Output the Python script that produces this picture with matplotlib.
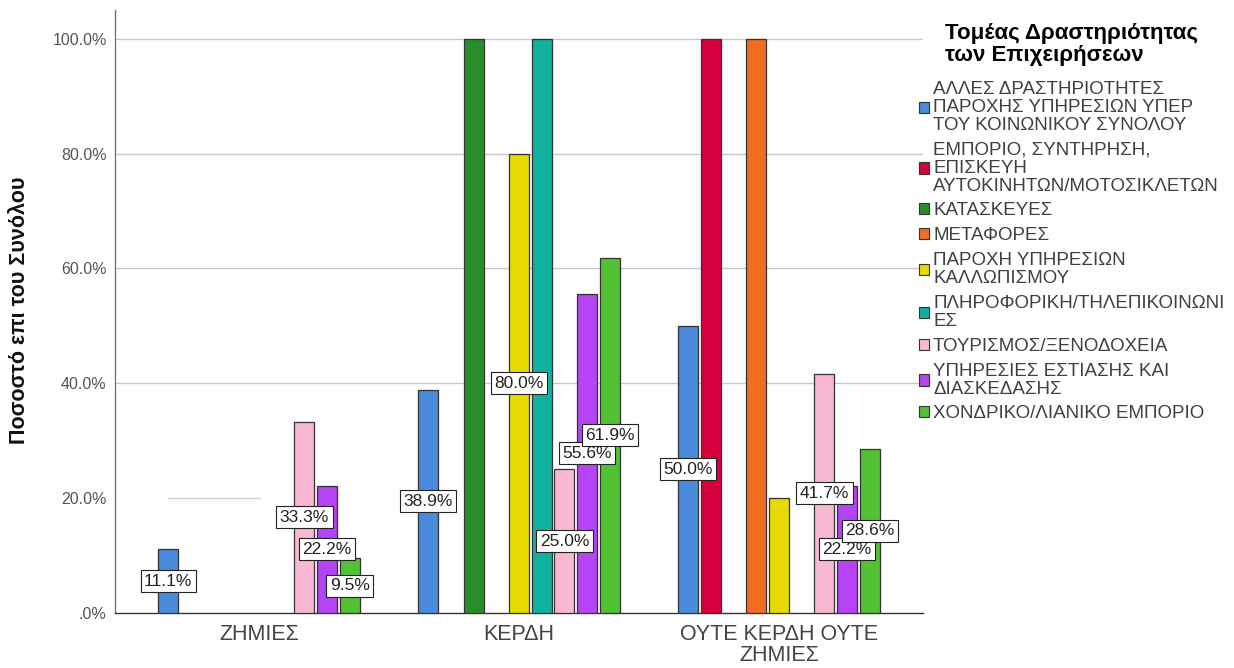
import numpy as np
import matplotlib
matplotlib.use("Agg")
import matplotlib.pyplot as plt

plt.rcParams['font.family'] = ['Liberation Sans', 'DejaVu Sans']

# Ομάδες (αποτέλεσμα χρήσης) και τομείς δραστηριότητας
groups = ["ΖΗΜΙΕΣ", "ΚΕΡΔΗ", "ΟΥΤΕ ΚΕΡΔΗ ΟΥΤΕ\nΖΗΜΙΕΣ"]
sectors = [
    "ΑΛΛΕΣ ΔΡΑΣΤΗΡΙΟΤΗΤΕΣ\nΠΑΡΟΧΗΣ ΥΠΗΡΕΣΙΩΝ ΥΠΕΡ\nΤΟΥ ΚΟΙΝΩΝΙΚΟΥ ΣΥΝΟΛΟΥ",
    "ΕΜΠΟΡΙΟ, ΣΥΝΤΗΡΗΣΗ,\nΕΠΙΣΚΕΥΗ\nΑΥΤΟΚΙΝΗΤΩΝ/ΜΟΤΟΣΙΚΛΕΤΩΝ",
    "ΚΑΤΑΣΚΕΥΕΣ",
    "ΜΕΤΑΦΟΡΕΣ",
    "ΠΑΡΟΧΗ ΥΠΗΡΕΣΙΩΝ\nΚΑΛΛΩΠΙΣΜΟΥ",
    "ΠΛΗΡΟΦΟΡΙΚΗ/ΤΗΛΕΠΙΚΟΙΝΩΝΙ\nΕΣ",
    "ΤΟΥΡΙΣΜΟΣ/ΞΕΝΟΔΟΧΕΙΑ",
    "ΥΠΗΡΕΣΙΕΣ ΕΣΤΙΑΣΗΣ ΚΑΙ\nΔΙΑΣΚΕΔΑΣΗΣ",
    "ΧΟΝΔΡΙΚΟ/ΛΙΑΝΙΚΟ ΕΜΠΟΡΙΟ",
]

# Ποσοστά (%) ανά τομέα για κάθε ομάδα
alles = [11.1, 38.9, 50.0]
emporio = [0.0, 0.0, 100.0]
kataskeves = [0.0, 100.0, 0.0]
metafores = [0.0, 0.0, 100.0]
kallopismos = [0.0, 80.0, 20.0]
pliroforiki = [0.0, 100.0, 0.0]
tourismos = [33.3, 25.0, 41.7]
estiasi = [22.2, 55.6, 22.2]
xondriko = [9.5, 61.9, 28.6]
values = [alles, emporio, kataskeves, metafores, kallopismos,
          pliroforiki, tourismos, estiasi, xondriko]

colors = ["#4B8BDB", "#D8003C", "#2A8C2A", "#F26C24", "#E6DA00",
          "#12B09E", "#F8B8D4", "#B444F4", "#52C234"]

# μπάρες χωρίς ετικέτα τιμής (σειρά, ομάδα)
no_label = {(4, 2)}

fig = plt.figure(figsize=(12.34, 6.68), dpi=100)
ax = fig.add_axes([115 / 1234, 55 / 668, 808 / 1234, 603 / 668])

x = np.arange(len(groups))
slot = 0.0873
width = 0.077
n = len(sectors)

for i, (vals, col, name) in enumerate(zip(values, colors, sectors)):
    pos = x + (i - (n - 1) / 2) * slot
    # οι μηδενικές μπάρες δεν έχουν περίγραμμα
    lws = [0.9 if v > 0 else 0 for v in vals]
    ax.bar(pos, vals, width=width, color=col, edgecolor="#333333",
           linewidth=lws, label=name, zorder=3)
    for g, (p, v) in enumerate(zip(pos, vals)):
        if v <= 0 or v >= 100 or (i, g) in no_label:
            continue
        ax.text(p, v / 2, f"{v:.1f}%", ha="center", va="center",
                fontsize=12.5, color="#222222", zorder=5,
                bbox=dict(boxstyle="square,pad=0.2", fc="white",
                          ec="#222222", lw=0.8))

ax.set_xlim(-0.554, 2.554)
ax.set_ylim(0, 105)

yticks = [0, 20, 40, 60, 80, 100]
ax.set_yticks(yticks)
ax.set_yticklabels([".0%"] + [f"{t:.1f}%" for t in yticks[1:]])
ax.set_xticks(x)
ax.set_xticklabels(groups, fontsize=15.5, color="#444444", linespacing=1.0)
ax.tick_params(axis="y", length=0, pad=6, labelsize=11.5, labelcolor="#555555")
ax.tick_params(axis="x", length=0, pad=8)

for t in [40, 60, 80, 100]:
    ax.axhline(t, color="#c8c8c8", lw=1, zorder=1)
ax.axhline(20, xmin=0.066, xmax=0.18, color="#d0d0d0", lw=1, zorder=1)

for s in ["top", "right"]:
    ax.spines[s].set_visible(False)
ax.spines["left"].set_color("#777777")
ax.spines["bottom"].set_color("#333333")
ax.spines["left"].set_linewidth(1)
ax.spines["bottom"].set_linewidth(1)

fig.text(20 / 1234, 1 - 310 / 668, "Ποσοστό επι του Συνόλου", rotation=90,
         ha="center", va="center", fontsize=15.5, fontweight="bold",
         color="#111111")

leg = fig.legend(loc="upper left", bbox_to_anchor=(919 / 1234, 1 - 23 / 668),
                 frameon=False, fontsize=13.5, borderpad=0, borderaxespad=0,
                 handlelength=0.55, handleheight=0.55, handletextpad=0.2,
                 labelspacing=0.42,
                 title="Τομέας Δραστηριότητας\nτων Επιχειρήσεων",
                 title_fontproperties={"weight": "bold", "size": 16})
leg.get_title().set_linespacing(1.05)
leg._legend_box.sep = 11
for t in leg.get_texts():
    t.set_color("#404040")
    t.set_linespacing(1.07)
for h in leg.legend_handles:
    h.set_edgecolor("#333333")
    h.set_linewidth(0.8)

fig.savefig("out.png", dpi=100, facecolor="white")
